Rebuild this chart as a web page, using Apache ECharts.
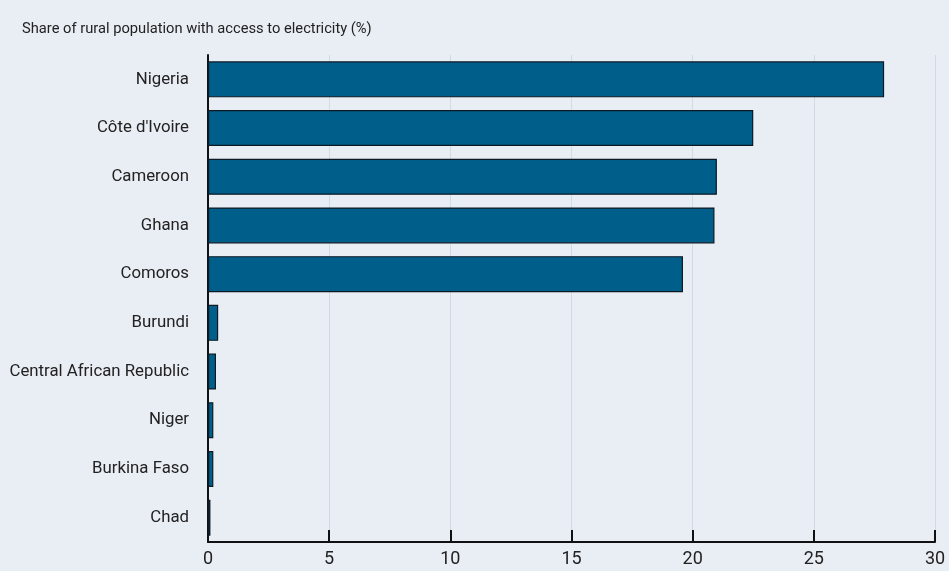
<!DOCTYPE html>
<html>
<head>
<meta charset="utf-8">
<script src="https://cdn.jsdelivr.net/npm/echarts@6/dist/echarts.min.js"></script>
<style>
html,body{margin:0;padding:0;background:#e9edf4;}
#chart{width:949px;height:571px;}
</style>
</head>
<body>
<div id="chart"></div>
<script>
const titleText = "Share of rural population with access to electricity (%)";
const categories = ["Nigeria","Côte d'Ivoire","Cameroon","Ghana","Comoros","Burundi","Central African Republic","Niger","Burkina Faso","Chad"];
const values = [27.9, 22.5, 21.0, 20.9, 19.6, 0.42, 0.33, 0.22, 0.22, 0.1];
const xTicks = [0, 5, 10, 15, 20, 25, 30];

const FONT = "Roboto, 'Liberation Sans', Arial, sans-serif";
const chart = echarts.init(document.getElementById('chart'));
chart.setOption({
  backgroundColor: '#e9edf4',
  animation: false,
  title: {
    text: titleText, left: 17, top: 17,
    textStyle: { fontFamily: FONT, fontSize: 14.7, fontWeight: 'normal', color: '#222' }
  },
  grid: { left: 208, right: 14, top: 55, bottom: 29, containLabel: false },
  xAxis: {
    type: 'value', min: xTicks[0], max: xTicks[xTicks.length-1], interval: 5,
    axisLine: { show: true, lineStyle: { color: '#111', width: 2 } },
    axisTick: { show: true, inside: true, length: 12, lineStyle: { color: '#111', width: 2 } },
    axisLabel: { fontFamily: FONT, fontSize: 18, color: '#222', margin: 8 },
    splitLine: { show: true, lineStyle: { color: '#cfdbe7', width: 1 } }
  },
  yAxis: {
    type: 'category', data: categories, inverse: true,
    axisLine: { show: true, onZero: false, lineStyle: { color: '#111', width: 2 } },
    axisTick: { show: false },
    axisLabel: { fontFamily: FONT, fontSize: 16.8, color: '#222', margin: 19, padding: [3, 0, 0, 0] },
    splitLine: { show: false }
  },
  series: [{
    type: 'bar', data: values, barWidth: '74%',
    itemStyle: { color: '#005f8a', borderColor: '#0d1a24', borderWidth: 1.2 }
  }]
});
</script>
</body>
</html>
